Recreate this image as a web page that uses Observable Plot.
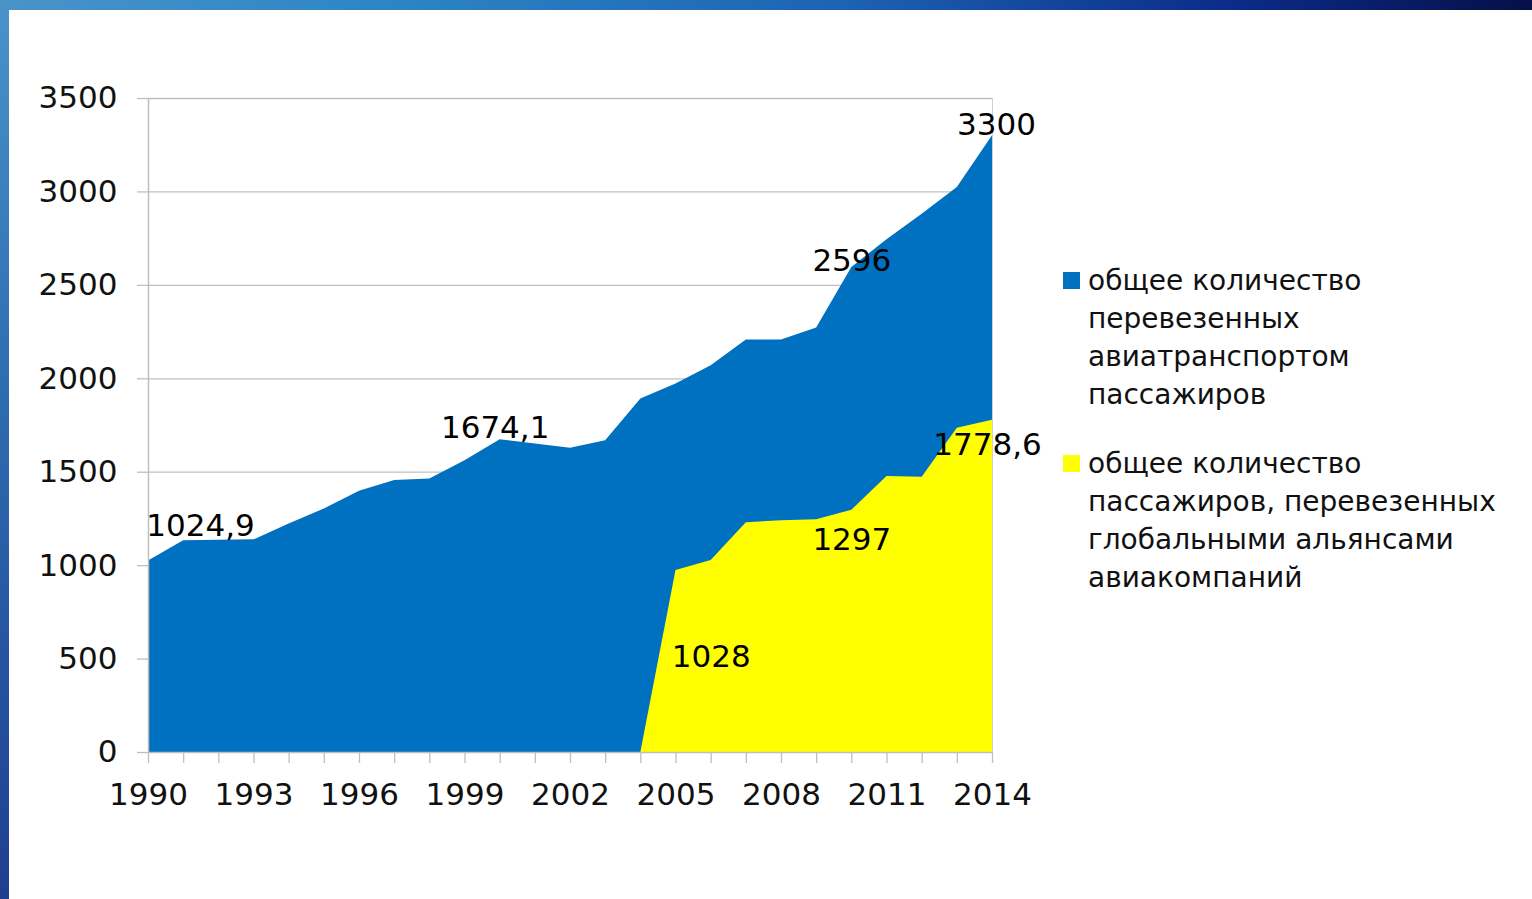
<!DOCTYPE html>
<html>
<head>
<meta charset="utf-8">
<script src="https://cdn.jsdelivr.net/npm/d3@7"></script>
<script src="https://cdn.jsdelivr.net/npm/@observablehq/plot@0.6"></script>
<style>
  html, body { margin: 0; padding: 0; background: #ffffff; }
  body { width: 1532px; height: 899px; position: relative; overflow: hidden; font-family: "DejaVu Sans", sans-serif; }
  #topband { position: absolute; left: 0; top: 0; width: 1532px; height: 10px;
    background: linear-gradient(90deg, #4a93c9 0%, #2c86c5 25%, #1d63b2 55%, #0b2c8a 80%, #060f48 100%); }
  #leftband { position: absolute; left: 0; top: 0; width: 9px; height: 899px;
    background: linear-gradient(180deg, #4a93c9 0%, #2f6fb2 40%, #1e3f8f 100%); }
  #chart { position: absolute; left: 0; top: 0; }
  .leg { position: absolute; left: 1063px; font-size: 28px; line-height: 38px; color: #111; }
  .leg .sw { position: absolute; left: 0; width: 17px; height: 17px; }
  .leg .tx { position: absolute; left: 25px; white-space: nowrap; }
</style>
</head>
<body>
<div id="topband"></div>
<div id="leftband"></div>
<div id="chart"></div>
<div id="legend"></div>
<script>
// ---- data ----
const years = [1990,1991,1992,1993,1994,1995,1996,1997,1998,1999,2000,2001,2002,2003,2004,2005,2006,2007,2008,2009,2010,2011,2012,2013,2014];
const totalPassengers = [1024.9,1133,1136,1138,1223,1303,1398,1455,1464,1562,1674.1,1651,1628,1669,1892,1972,2070,2208,2207,2272,2596,2744,2880,3024,3300];
const allianceYears = [2004,2005,2006,2007,2008,2009,2010,2011,2012,2013,2014];
const alliancePassengers = [0,974,1028,1230,1240,1246,1297,1477,1473,1735,1778.6];
const xTickLabels = [1990,1993,1996,1999,2002,2005,2008,2011,2014];
const yTicks = [0,500,1000,1500,2000,2500,3000,3500];
const totalLabelYears = [1990,2000,2010,2014];
const allianceLabelYears = [2006,2010,2014];
const seriesNames = [
  ["общее количество", "перевезенных", "авиатранспортом", "пассажиров"],
  ["общее количество", "пассажиров, перевезенных", "глобальными альянсами", "авиакомпаний"]
];
const seriesColors = ["#0070c0", "#ffff00"];

// ---- tables ----
const totalData = years.map((y, i) => ({year: y, value: totalPassengers[i]}));
const allianceData = allianceYears.map((y, i) => ({year: y, value: alliancePassengers[i]}));
const fmt = v => String(v).replace(".", ",");

// label offsets (style)
const totalOffsets = {1990: [52, -35], 2000: [-5, -12], 2010: [0, -6], 2014: [4, -11]};
const allianceOffsets = {2006: [0, 97], 2010: [0, 30], 2014: [-5, 25]};

const FONT = "DejaVu Sans, sans-serif";
const grey = "#bfbfbf";

const labelMarks = [];
for (const y of totalLabelYears) {
  const d = totalData.filter(r => r.year === y);
  const [dx, dy] = totalOffsets[y];
  labelMarks.push(Plot.text(d, {x: "year", y: "value", text: r => fmt(r.value), dx, dy, fontSize: 31, fill: "#000", fontFamily: FONT}));
}
for (const y of allianceLabelYears) {
  const d = allianceData.filter(r => r.year === y);
  const [dx, dy] = allianceOffsets[y];
  labelMarks.push(Plot.text(d, {x: "year", y: "value", text: r => fmt(r.value), dx, dy, fontSize: 31, fill: "#000", fontFamily: FONT}));
}

const chart = Plot.plot({
  width: 1532,
  height: 899,
  marginLeft: 148,
  marginRight: 540,
  marginTop: 98,
  marginBottom: 147,
  style: {fontFamily: FONT, fontSize: "31px", background: "transparent", overflow: "visible"},
  x: {domain: [1990, 2014], type: "linear"},
  y: {domain: [0, 3500]},
  marks: [
    Plot.ruleY(yTicks.filter(t => t > 0), {stroke: grey, strokeWidth: 1.3, x1: 1990, x2: 2014}),
    Plot.areaY(totalData, {x: "year", y: "value", fill: seriesColors[0], curve: "linear"}),
    Plot.areaY(allianceData, {x: "year", y: "value", fill: seriesColors[1], curve: "linear"}),
    Plot.ruleX([2014], {stroke: "#d0d0d0", strokeWidth: 1}),
    Plot.ruleX([1990], {stroke: grey, strokeWidth: 1.5}),
    Plot.ruleY([0], {stroke: grey, strokeWidth: 1.5}),
    Plot.axisY({ticks: yTicks, tickSize: 11, tickPadding: 20, stroke: grey, strokeWidth: 1.3, fill: "#111", fontSize: 31, label: null, tickFormat: d => String(d)}),
    Plot.axisX({ticks: years, tickSize: 11, tickPadding: 19, stroke: grey, strokeWidth: 1.3, fill: "#111", fontSize: 31, label: null,
      tickFormat: d => xTickLabels.includes(d) ? String(d) : ""}),
    ...labelMarks
  ]
});
document.getElementById("chart").appendChild(chart);

// legend
const legend = document.getElementById("legend");
const legTops = [262, 445];
seriesNames.forEach((lines, i) => {
  const div = document.createElement("div");
  div.className = "leg";
  div.style.top = legTops[i] + "px";
  const sw = document.createElement("div");
  sw.className = "sw";
  sw.style.background = seriesColors[i];
  sw.style.top = "10px";
  const tx = document.createElement("div");
  tx.className = "tx";
  tx.innerHTML = lines.join("<br>");
  div.appendChild(sw);
  div.appendChild(tx);
  legend.appendChild(div);
});
</script>
</body>
</html>
